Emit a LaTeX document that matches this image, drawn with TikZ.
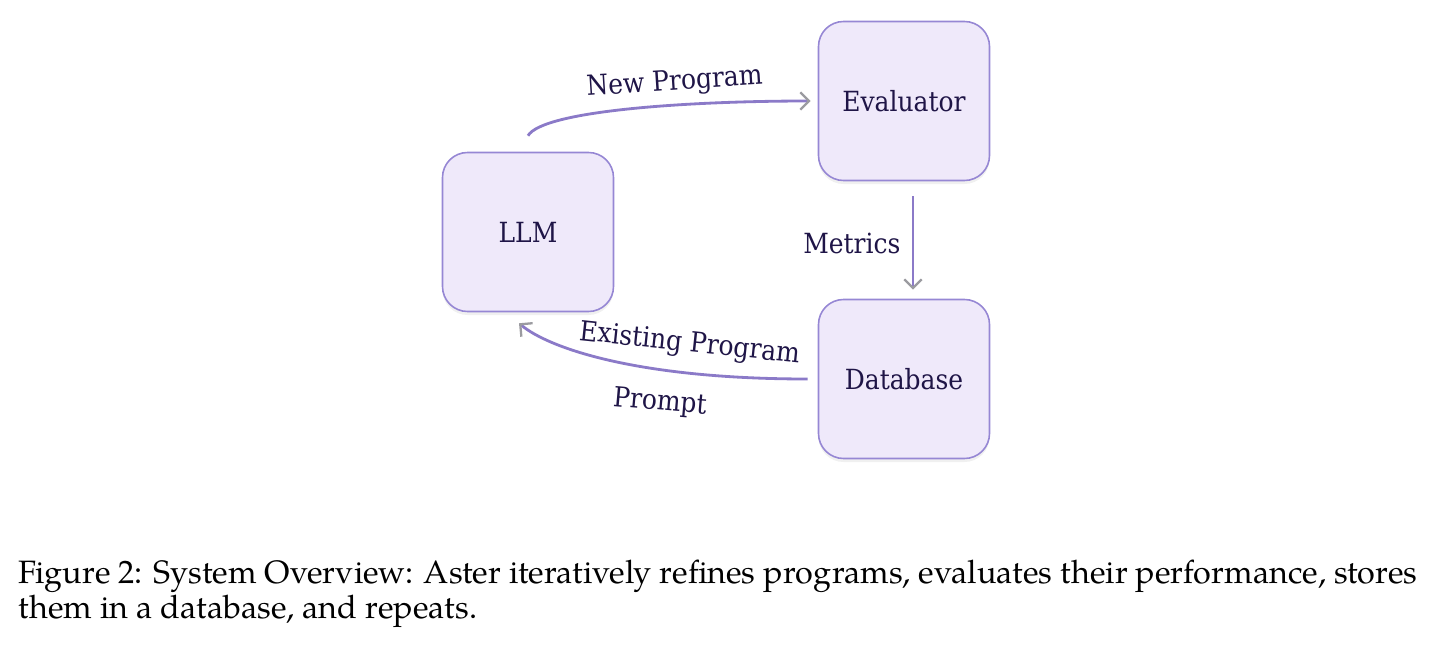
\documentclass[tikz,border=0pt]{standalone}
\usepackage{fontspec}
\usepackage{tikz}
\usetikzlibrary{arrows.meta,shadows}
\newfontfamily\diafont{DejaVu Serif Condensed}
\newfontfamily\capfont{TeX Gyre Pagella}
\definecolor{lavender}{RGB}{239, 233, 250}
\definecolor{amethyst}{RGB}{150, 135, 212}
\definecolor{wire}{RGB}{139, 122, 200}
\definecolor{tipgray}{RGB}{155, 155, 160}
\definecolor{ink}{RGB}{31, 21, 71}
\tikzset{
  stage/.style={draw=amethyst, line width=0.9pt, fill=lavender, rounded corners=0.5cm,
    minimum width=3.42cm, minimum height=3.18cm, text=ink,
    font=\diafont\fontsize{15.8}{17}\selectfont,
    drop shadow={opacity=0.12, shadow xshift=0pt, shadow yshift=-2pt}},
  flow/.style={wire, line width=1.6pt, -{Straight Barb[color=tipgray, length=5pt, width=10pt, line width=1.3pt]}},
  tag/.style={text=ink, font=\diafont\fontsize{15.8}{17}\selectfont}
}
\begin{document}
\begin{tikzpicture}
    \useasboundingbox (0,0) rectangle (28.68,-12.96);
    % the three stages
    \node[stage] (llm) at (10.56,-4.64) {LLM};
    \node[stage] (eval) at (18.08,-2.02) {Evaluator};
    \node[stage] (db) at (18.08,-7.58) {Database};

    % LLM -> Evaluator
    \draw[flow] ([yshift=0.32cm]llm.north) .. controls +(0.3,0.5) and +(-2.48,0) ..
        node[pos=0.64, above=1pt, sloped, tag] (lblnew) {New Program} ([xshift=-0.14cm]eval.west);

    % Evaluator -> Database
    \draw[flow] ([xshift=0.18cm,yshift=-0.3cm]eval.south) --
        node[midway, left=3pt, tag] (lblmet) {Metrics} ([xshift=0.18cm,yshift=0.18cm]db.north);

    % Database -> LLM
    \draw[flow] ([xshift=-0.2cm]db.west) .. controls +(-3.4,0) and +(0.6,-0.5) ..
        node[pos=0.27, above=0.16cm, rotate=-6, tag] (lblold) {Existing Program}
        node[pos=0.34, below=0.26cm, rotate=-5, tag] (lblprm) {Prompt} ([xshift=-0.18cm,yshift=-0.22cm]llm.south);

    % caption
    \node[anchor=base west, inner sep=0pt, align=left, text=black,
          font=\capfont\fontsize{18.4}{19.9}\selectfont] (caption) at (0.36,-12.36)
        {\hbox to 27.98cm{Figure 2: System Overview: Aster iteratively refines programs, evaluates their performance, stores}\\
         them in a database, and repeats.};
\end{tikzpicture}
\end{document}
